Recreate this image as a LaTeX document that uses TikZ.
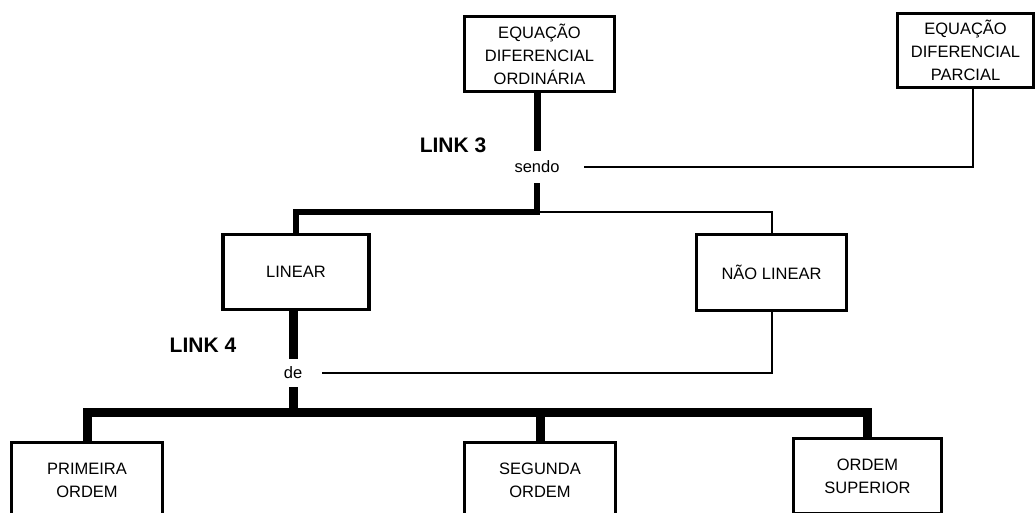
\documentclass[tikz,border=0pt]{standalone}
\usepackage{fontspec}
\setmainfont{Liberation Sans}
\begin{document}
\begin{tikzpicture}[x=1pt,y=-1pt,
  box/.style={draw, line width=3.5pt, align=center, inner sep=0pt,
    font=\fontsize{16.5}{23}\selectfont},
  lbl/.style={font=\fontsize{16.5}{20}\selectfont, inner xsep=22pt},
  linktxt/.style={font=\bfseries\fontsize{21}{24}\selectfont, inner sep=0pt},
  heavy/.style={line width=6pt, line join=miter},
  heavier/.style={line width=9pt, line join=miter},
  thinline/.style={line width=2pt}]
\useasboundingbox (0,0) rectangle (1036,512);

% concept boxes
\node[box, minimum width=150pt, minimum height=75pt] (edo) at (539.5,54)
  {EQUAÇÃO\\DIFERENCIAL\\ORDINÁRIA};
\node[box, minimum width=136pt, minimum height=74pt] (edp) at (965.5,50.5)
  {EQUAÇÃO\\DIFERENCIAL\\PARCIAL};
\node[box, minimum width=146pt, minimum height=75pt] (lin) at (296,272) {LINEAR};
\node[box, minimum width=150pt, minimum height=76pt] (nlin) at (771.5,272.5) {NÃO LINEAR};
\node[box, minimum width=151pt, minimum height=75pt] (prim) at (87,480) {PRIMEIRA\\ORDEM};
\node[box, minimum width=151pt, minimum height=75pt] (seg) at (540,480) {SEGUNDA\\ORDEM};
\node[box, minimum width=148pt, minimum height=75pt] (sup) at (867.5,476) {ORDEM\\SUPERIOR};

% linking words
\node[lbl, inner xsep=24pt, inner ysep=10pt] (sendo) at (537,167) {sendo};
\node[lbl, inner xsep=20pt, inner ysep=8pt] (de) at (293,373) {de};

% link labels
\node[linktxt] (l3) at (453,145) {LINK 3};
\node[linktxt] (l4) at (203,345) {LINK 4};

% junction points
\coordinate (j3) at (537,212);
\coordinate (j4) at (293,412);

% link 3
\draw[line width=7pt] (sendo.north |- edo.south) -- (sendo.north);
\draw[heavy] (sendo.south) -- (j3) -| (lin.north);
\draw[thinline] (j3) -| (nlin.north);
\draw[thinline] ([xshift=7pt]edp.south) |- (sendo.east);

% link 4
\draw[heavier] (de.north |- lin.south) -- (de.north);
\draw[heavier] (de.south) -- (j4);
\draw[heavier] (prim.north) -- (prim.north |- j4) -- (sup.north |- j4) -- (sup.north);
\draw[heavier] (seg.north |- j4) -- (seg.north);
\draw[thinline] (nlin.south) |- (de.east);
\end{tikzpicture}
\end{document}
